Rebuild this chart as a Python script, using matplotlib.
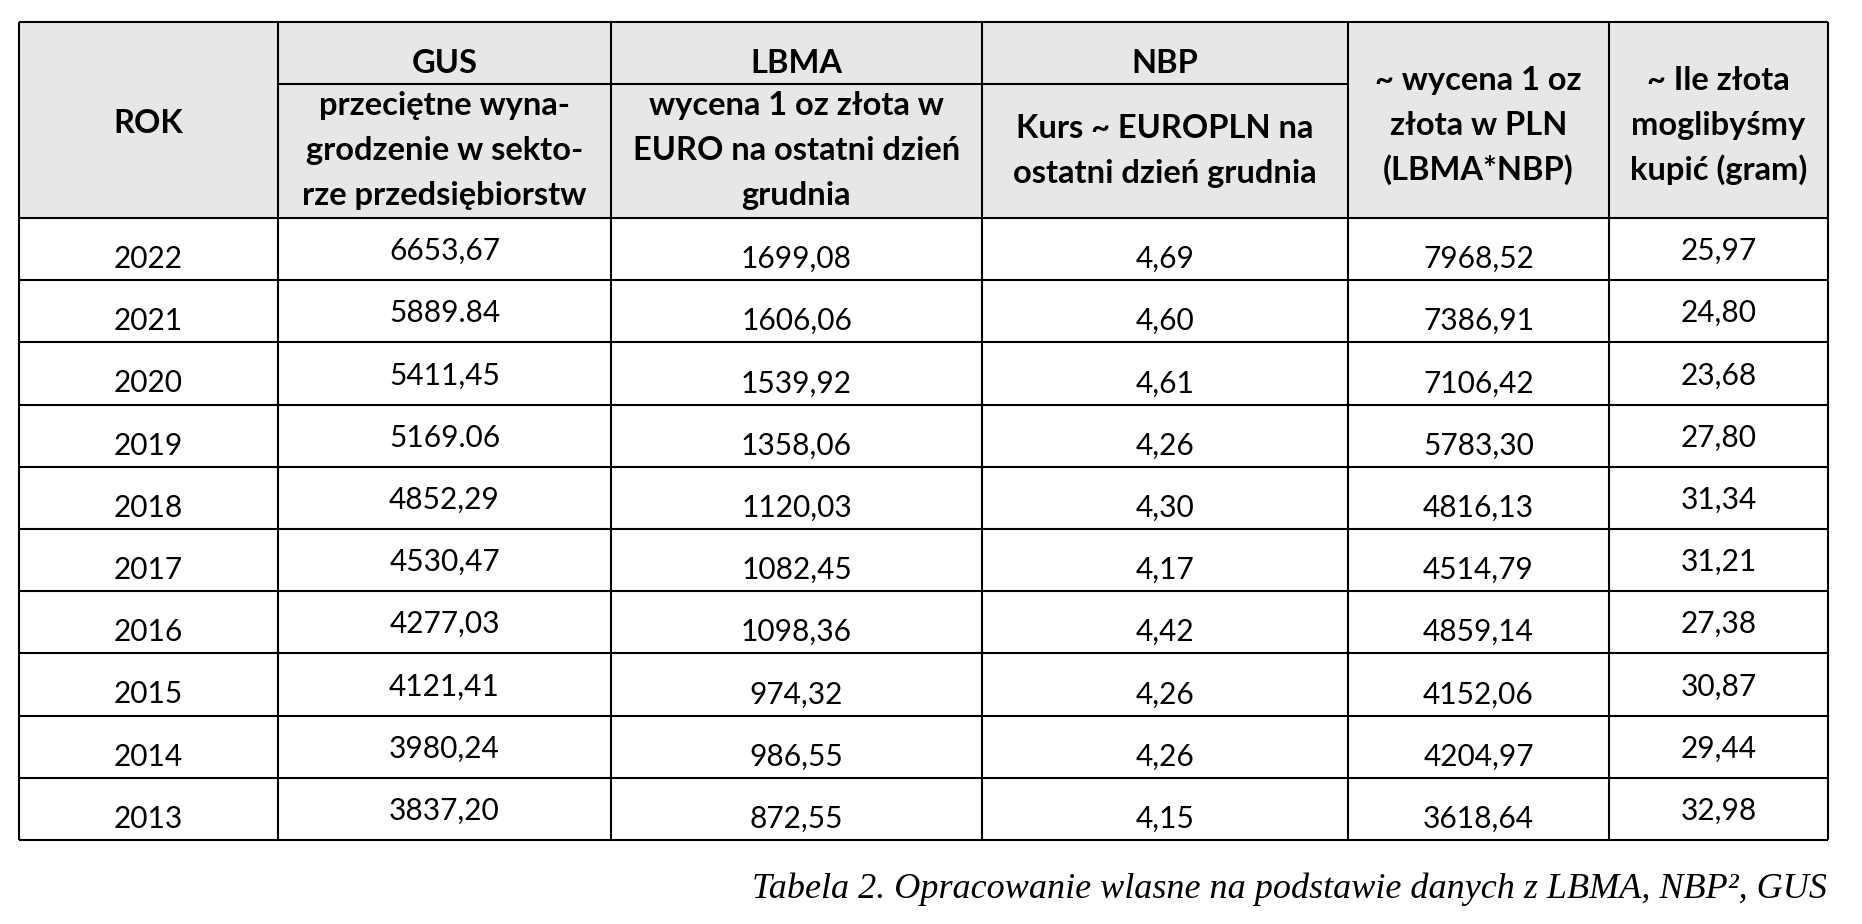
import matplotlib
matplotlib.use("Agg")
import matplotlib.pyplot as plt
from matplotlib.patches import Rectangle

# table data (as printed, incl. the two values written with a dot)
years = ["2022", "2021", "2020", "2019", "2018", "2017", "2016", "2015", "2014", "2013"]
gus = ["6653,67", "5889.84", "5411,45", "5169.06", "4852,29",
       "4530,47", "4277,03", "4121,41", "3980,24", "3837,20"]
lbma = ["1699,08", "1606,06", "1539,92", "1358,06", "1120,03",
        "1082,45", "1098,36", "974,32", "986,55", "872,55"]
nbp = ["4,69", "4,60", "4,61", "4,26", "4,30", "4,17", "4,42", "4,26", "4,26", "4,15"]
pln = ["7968,52", "7386,91", "7106,42", "5783,30", "4816,13",
       "4514,79", "4859,14", "4152,06", "4204,97", "3618,64"]
gram = ["25,97", "24,80", "23,68", "27,80", "31,34", "31,21", "27,38", "30,87", "29,44", "32,98"]

top_labels = ["GUS", "LBMA", "NBP"]
sub_labels = [["przeciętne wyna-", "grodzenie w sekto-", "rze przedsiębiorstw"],
              ["wycena 1 oz złota w", "EURO na ostatni dzień", "grudnia"],
              ["Kurs ~ EUROPLN na", "ostatni dzień grudnia"]]
side_labels = [["~ wycena 1 oz", "złota w PLN", "(LBMA*NBP)"],
               ["~ Ile złota", "moglibyśmy", "kupić (gram)"]]
caption = "Tabela 2. Opracowanie wlasne na podstawie danych z LBMA, NBP², GUS"

columns = [years, gus, lbma, nbp, pln, gram]
# baseline offset of numbers inside a row (some columns sit higher)
base_off = [50, 42, 50, 50, 50, 42]

# layout in pixels
W, H = 1862, 924
xs = [19, 278, 611, 982, 1348, 1609, 1828]
y_top, y_mid, y_head = 22, 84, 218
row_h = 62.2
n = len(years)
y_bot = y_head + n * row_h
lw = 1.5
fs = 21.5
fs_head = 23.5
font = "Lato"

fig = plt.figure(figsize=(W / 100, H / 100), dpi=100)
ax = fig.add_axes([0, 0, 1, 1])
ax.set_xlim(0, W)
ax.set_ylim(H, 0)
ax.axis("off")

ax.add_patch(Rectangle((xs[0], y_top), xs[-1] - xs[0], y_head - y_top,
                       facecolor="#e7e7e7", edgecolor="none"))

# grid lines
ax.vlines(xs, y_top, y_bot, color="black", lw=lw)
ax.hlines([y_top, y_head] + [y_head + (i + 1) * row_h for i in range(n)],
          xs[0], xs[-1], color="black", lw=lw)
ax.hlines(y_mid, xs[1], xs[4], color="black", lw=lw)

cx = [(xs[i] + xs[i + 1]) / 2 for i in range(len(xs) - 1)]
line_sp = 45

# header
ax.text(cx[0], 133, "ROK", ha="center", va="baseline", fontsize=fs_head,
        fontweight="bold", family=font)
for j, lab in enumerate(top_labels):
    ax.text(cx[j + 1], 73, lab, ha="center", va="baseline", fontsize=fs_head,
            fontweight="bold", family=font)
for j, lines in enumerate(sub_labels):
    c = (y_mid + y_head) / 2 + 9
    for k, s in enumerate(lines):
        y = c + (k - (len(lines) - 1) / 2) * line_sp
        ax.text(cx[j + 1], y, s, ha="center", va="baseline", fontsize=fs_head,
                fontweight="bold", family=font)
for j, lines in enumerate(side_labels):
    c = (y_top + y_head) / 2 + 15
    for k, s in enumerate(lines):
        y = c + (k - (len(lines) - 1) / 2) * line_sp
        ax.text(cx[j + 4], y, s, ha="center", va="baseline", fontsize=fs_head,
                fontweight="bold", family=font)

# body
for j, col in enumerate(columns):
    for i, s in enumerate(col):
        ax.text(cx[j], y_head + i * row_h + base_off[j], s, ha="center",
                va="baseline", fontsize=fs, family=font)

ax.text(1827, 898, caption, ha="right", va="baseline", fontsize=26,
        style="italic", family="Liberation Serif")

fig.savefig("out.png", dpi=100)
